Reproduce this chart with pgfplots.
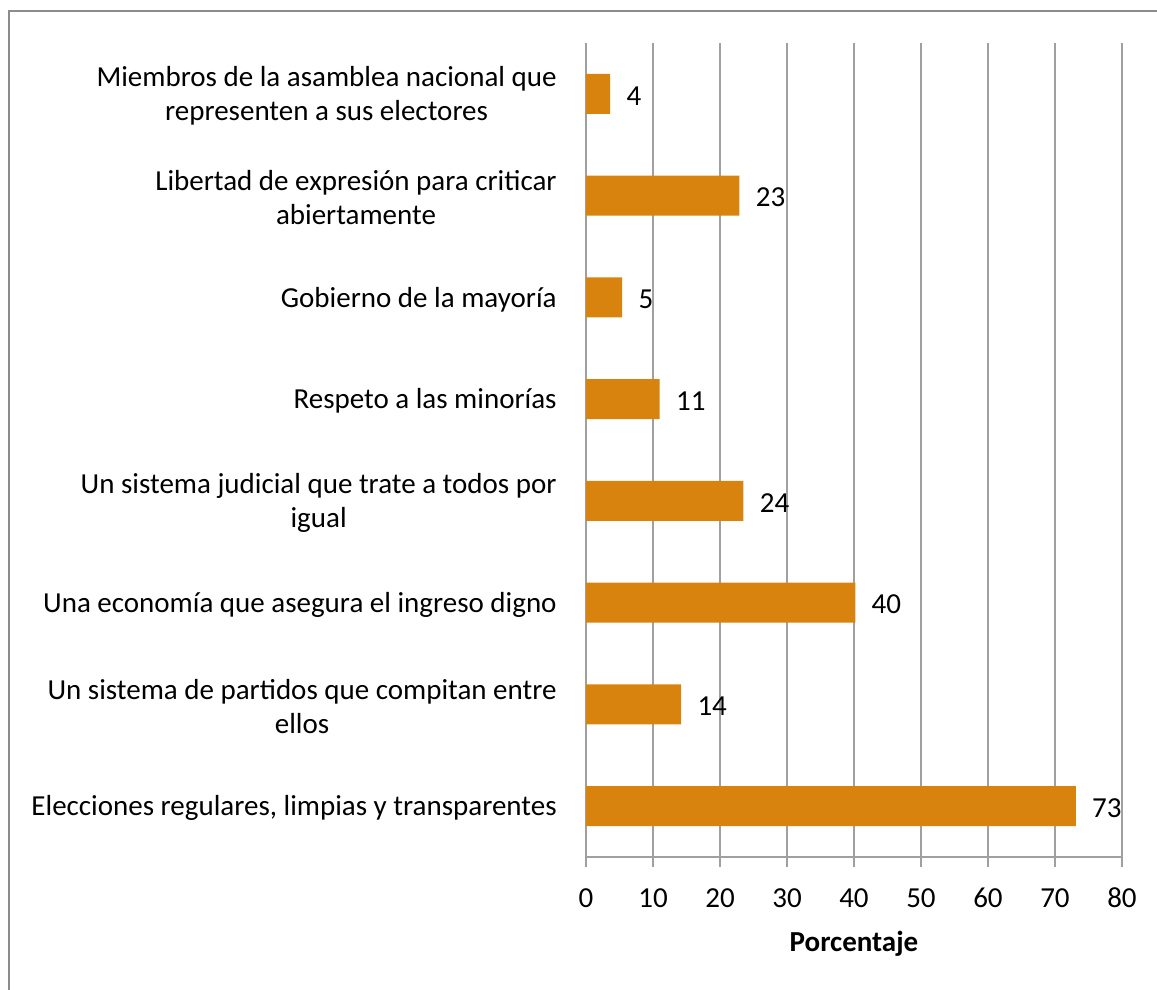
\documentclass[border=0pt]{standalone}
\usepackage{pgfplots}
\pgfplotsset{compat=1.18}
\usepackage{pgfplotstable}
\usepackage{fontspec}
\setmainfont{Carlito}
\definecolor{barc}{HTML}{D9830F}
\definecolor{gridc}{HTML}{A0A0A0}
\definecolor{framec}{HTML}{8C8C8C}
\pgfplotstableread{
y v lab
0 73.1 73
1 14.2 14
2 40.2 40
3 23.5 24
4 11.0 11
5 5.4 5
6 22.9 23
7 3.6 4
}\data
\begin{document}
\begin{tikzpicture}[font=\fontsize{14.5}{17}\selectfont]
\path[use as bounding box] (0,0) rectangle (578.5pt,495pt);
\draw[framec, line width=1pt] (4.5pt,-2pt) -- (4.5pt,489.5pt) -- (581pt,489.5pt);
\begin{axis}[
  at={(293pt,66.5pt)}, anchor=south west,
  scale only axis, width=268pt, height=407pt,
  xbar, bar width=20pt,
  xmin=0, xmax=80, ymin=-0.5, ymax=7.5,
  xtick={0,10,...,80}, ytick={0,...,7},
  yticklabels={{Elecciones regulares, limpias y transparentes},
    {Un sistema de partidos que compitan entre\\ellos},
    {Una economía que asegura el ingreso digno},
    {Un sistema judicial que trate a todos por\\igual},
    {Respeto a las minorías},
    {Gobierno de la mayoría},
    {Libertad de expresión para criticar\\abiertamente},
    {Miembros de la asamblea nacional que\\representen a sus electores}},
  yticklabel style={align=center, inner sep=0pt, xshift=-9.5pt, yshift=-1pt},
  xticklabel style={anchor=center, inner sep=0pt, yshift=-15.5pt},
  /pgf/number format/assume math mode=true,
  axis lines*=left,
  axis line style={gridc, line width=0.75pt, -},
  xmajorgrids, major grid style={gridc, line width=0.75pt},
  xtick style={gridc, line width=0.75pt},
  tick align=outside, major tick length=5pt,
  ytick style={draw=none},
  xlabel={\textbf{Porcentaje}},
  xlabel style={at={(axis description cs:0.5,0)}, anchor=center, yshift=-43.5pt},
  nodes near coords,
  point meta=explicit symbolic,
  nodes near coords style={anchor=west, inner sep=0pt, xshift=8pt, yshift=-1pt, text=black},
]
\addplot[fill=barc, draw=none] table[x=v, y=y, meta=lab] {\data};
\end{axis}
\end{tikzpicture}
\end{document}
